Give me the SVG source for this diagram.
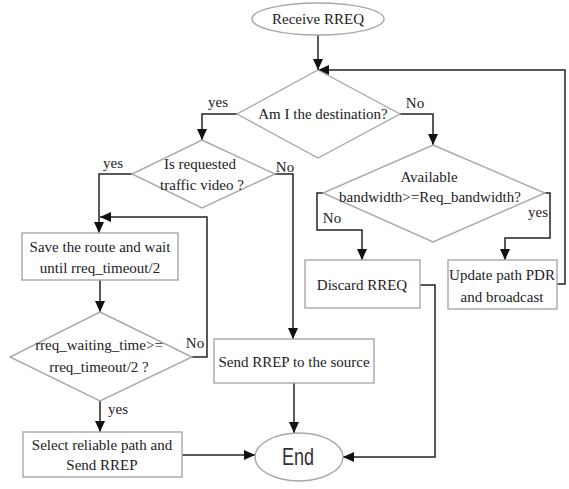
<svg xmlns="http://www.w3.org/2000/svg" width="569" height="489" viewBox="0 0 569 489">
<style>
.shape{fill:#fff;stroke:#a8a8a8;stroke-width:1.4}
.conn{fill:none;stroke:#222;stroke-width:1.5}
text{font-family:"Liberation Serif","Times New Roman",serif;font-size:15px;fill:#222;text-anchor:middle}
.sans{font-family:"Liberation Sans",Arial,sans-serif;font-size:18px;fill:#333}
</style>
<defs>
<marker id="arr" markerUnits="userSpaceOnUse" markerWidth="12" markerHeight="10" refX="11" refY="5" orient="auto">
<path d="M0,0 L11,5 L0,10 Z" fill="#111"/>
</marker>
</defs>
<rect width="569" height="489" fill="#fff"/>
<g id="connectors" class="conn">
<path d="M318 34 V70" marker-end="url(#arr)"/>
<path d="M557 284 H565 V70 H318" marker-end="url(#arr)"/>
<path d="M237 114 H202 V140" marker-end="url(#arr)"/>
<path d="M400 114 H433 V145" marker-end="url(#arr)"/>
<path d="M132 174 H99 V233" marker-end="url(#arr)"/>
<path d="M275 174 H293 V339" marker-end="url(#arr)"/>
<path d="M192 357 H207 V217 H100" marker-end="url(#arr)"/>
<path d="M100 280 V312" marker-end="url(#arr)"/>
<path d="M100 401 V432" marker-end="url(#arr)"/>
<path d="M182 455 H255" marker-end="url(#arr)"/>
<path d="M294 383 V433" marker-end="url(#arr)"/>
<path d="M420 285 H435 V457 H343" marker-end="url(#arr)"/>
<path d="M323 193 H317 V230 H362 V260" marker-end="url(#arr)"/>
<path d="M545 193 H550 V238 H505 V260" marker-end="url(#arr)"/>
</g>
<g id="labels">
<text x="218" y="107">yes</text>
<text x="415" y="108">No</text>
<text x="113" y="168">yes</text>
<text x="285" y="172">No</text>
<text x="195" y="348">No</text>
<text x="118" y="414">yes</text>
<text x="332" y="223">No</text>
<text x="538" y="217">yes</text>
</g>
<g id="receive">
<ellipse class="shape" cx="318" cy="19" rx="66" ry="16"/>
<text x="318" y="24">Receive RREQ</text>
</g>
<g id="dest">
<polygon class="shape" points="318,70 400,114 318,158 237,114"/>
<text x="323" y="119">Am I the destination?</text>
</g>
<g id="video">
<polygon class="shape" points="202,140 275,174 202,208 132,174"/>
<text x="200" y="169">Is requested</text>
<text x="202" y="190">traffic video ?</text>
</g>
<g id="avail">
<polygon class="shape" points="433,145 545,193 433,242 323,193"/>
<text x="429" y="182">Available</text>
<text x="430" y="202">bandwidth&gt;=Req_bandwidth?</text>
</g>
<g id="save">
<rect class="shape" x="22" y="233" width="156" height="47"/>
<text x="100" y="252">Save the route and wait</text>
<text x="100" y="273">until rreq_timeout/2</text>
</g>
<g id="waiting">
<polygon class="shape" points="100,312 192,357 100,401 10,357"/>
<text x="99" y="350">rreq_waiting_time&gt;=</text>
<text x="99" y="372">rreq_timeout/2 ?</text>
</g>
<g id="select">
<rect class="shape" x="23" y="432" width="159" height="45"/>
<text x="102" y="450">Select reliable path and</text>
<text x="102" y="470">Send RREP</text>
</g>
<g id="sendrrep">
<rect class="shape" x="214" y="339" width="160" height="44"/>
<text x="294" y="367">Send RREP to the source</text>
</g>
<g id="discard">
<rect class="shape" x="305" y="260" width="115" height="48"/>
<text x="362" y="290">Discard RREQ</text>
</g>
<g id="update">
<rect class="shape" x="448" y="260" width="109" height="49"/>
<text x="502" y="280">Update path PDR</text>
<text x="502" y="302">and broadcast</text>
</g>
<g id="end">
<ellipse class="shape" cx="299" cy="457" rx="44" ry="24"/>
<text class="sans" transform="translate(298 457) scale(1 1.3)" x="0" y="6.2">End</text>
</g>
</svg>
